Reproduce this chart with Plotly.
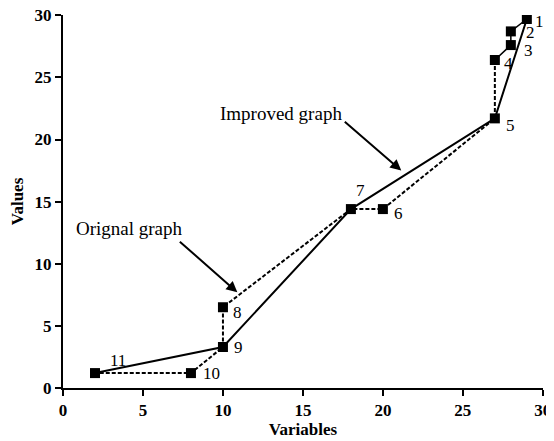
import plotly.graph_objects as go

# Data
point_labels = ["1", "2", "3", "4", "5", "6", "7", "8", "9", "10", "11"]
x_vals = [29, 28, 28, 27, 27, 20, 18, 10, 10, 8, 2]
y_vals = [29.7, 28.7, 27.6, 26.4, 21.7, 14.4, 14.4, 6.5, 3.3, 1.2, 1.2]
original_order = ["1", "2", "3", "4", "5", "6", "7", "8", "9", "10", "11"]
improved_order = ["11", "9", "7", "5", "1"]
x_ticks = [0, 5, 10, 15, 20, 25, 30]
y_ticks = [0, 5, 10, 15, 20, 25, 30]

idx = {lab: i for i, lab in enumerate(point_labels)}

# label offsets (pixels): xshift, yshift
label_offsets = {
    "1": (6, -3), "2": (13, -1), "3": (11, -5), "4": (7, -4), "5": (9, -7),
    "6": (9, -4), "7": (3, 19), "8": (8, -5), "9": (9, 0), "10": (10, 0), "11": (13, 13),
}

FONT = "Liberation Serif"
fig = go.Figure()

orig_idx = [idx[l] for l in original_order]
top = orig_idx[:4]
rest = orig_idx[3:]
fig.add_trace(go.Scatter(x=[x_vals[i] for i in top], y=[y_vals[i] for i in top],
                         mode="lines", line=dict(color="black", width=1.5),
                         showlegend=False, hoverinfo="skip"))
fig.add_trace(go.Scatter(x=[x_vals[i] for i in rest], y=[y_vals[i] for i in rest],
                         mode="lines", line=dict(color="black", width=2, dash="4px,2px"),
                         showlegend=False, hoverinfo="skip"))
imp_idx = [idx[l] for l in improved_order]
fig.add_trace(go.Scatter(x=[x_vals[i] for i in imp_idx], y=[y_vals[i] for i in imp_idx],
                         mode="lines", line=dict(color="black", width=2),
                         showlegend=False, hoverinfo="skip"))
fig.add_trace(go.Scatter(x=x_vals, y=y_vals, mode="markers",
                         marker=dict(symbol="square", size=10, color="black"),
                         showlegend=False))

for lab, xv, yv in zip(point_labels, x_vals, y_vals):
    dx, dy = label_offsets[lab]
    fig.add_annotation(x=xv, y=yv, text=lab, showarrow=False, xanchor="left",
                       yanchor="middle", xshift=dx, yshift=dy,
                       font=dict(family=FONT, size=17, color="black"))

# Annotation texts and arrows
fig.add_annotation(x=9.69, y=22.1, text="Improved graph", showarrow=False,
                   xanchor="left", yanchor="middle",
                   font=dict(family=FONT, size=19, color="black"))
fig.add_annotation(x=21.15, y=17.5, ax=-58, ay=-50, text="", showarrow=True,
                   arrowhead=2, arrowsize=1.1, arrowwidth=2, arrowcolor="black")
fig.add_annotation(x=0.69, y=12.8, text="Orignal graph", showarrow=False,
                   xanchor="left", yanchor="middle",
                   font=dict(family=FONT, size=19, color="black"))
fig.add_annotation(x=10.9, y=7.7, ax=-59, ay=-52, text="", showarrow=True,
                   arrowhead=2, arrowsize=1.1, arrowwidth=2, arrowcolor="black")

# page body has an 8px margin: compensate in size and margins
fig.update_layout(
    width=546, height=433,
    margin=dict(l=55, r=11, t=7, b=53),
    plot_bgcolor="white", paper_bgcolor="white",
    font=dict(family=FONT, size=17, color="black"),
    xaxis=dict(range=[0, 30.01], tickvals=x_ticks, showline=True, linecolor="black",
               linewidth=2, ticks="outside", ticklen=6, tickwidth=2, tickcolor="black",
               showgrid=False, zeroline=False, ticklabeloverflow="allow", automargin=False,
               tickfont=dict(family=FONT, size=17, color="black", weight="bold"),
               title=dict(text="<b>Variables</b>", standoff=2,
                          font=dict(family=FONT, size=17, color="black"))),
    yaxis=dict(range=[0, 30.02], tickvals=y_ticks, showline=True, linecolor="black",
               linewidth=2, ticks="outside", ticklen=6, tickwidth=2, tickcolor="black",
               showgrid=False, zeroline=False, ticklabeloverflow="allow", automargin=False,
               tickfont=dict(family=FONT, size=17, color="black", weight="bold"),
               title=dict(text="<b>Values</b>", standoff=8,
                          font=dict(family=FONT, size=17, color="black"))),
)

fig.write_html("out.html", config={"displayModeBar": False},
               post_script="document.documentElement.style.overflow='hidden';"
                           "document.body.style.overflow='hidden';")
